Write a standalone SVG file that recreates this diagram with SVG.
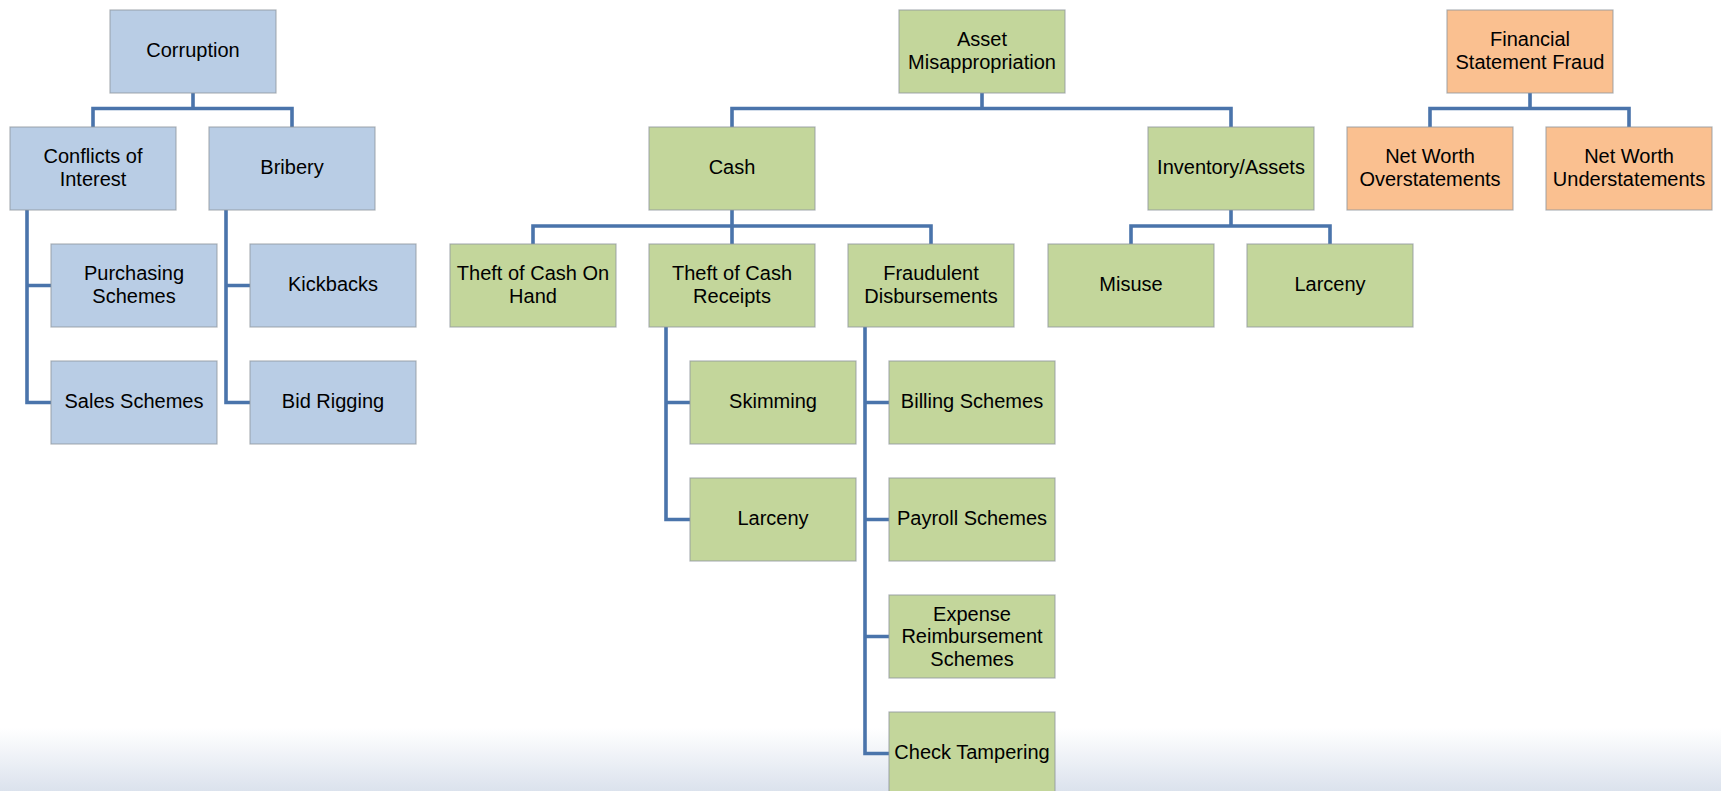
<svg xmlns="http://www.w3.org/2000/svg" width="1721" height="791" viewBox="0 0 1721 791">
<defs>
<linearGradient id="bg" x1="0" y1="0" x2="0" y2="1">
<stop offset="0" stop-color="#ffffff"/>
<stop offset="1" stop-color="#dbe2ed"/>
</linearGradient>
<style>
.b rect{stroke:#8f959c;stroke-width:1.2;stroke-opacity:0.7}
.blue rect{fill:#b9cde5}
.green rect{fill:#c3d69b}
.orange rect{fill:#fac090}
text{font-family:"Liberation Sans",Arial,sans-serif;font-size:20px;fill:#000;text-anchor:middle}
#connectors path{fill:none;stroke:#4a74ab;stroke-width:3.6;stroke-linejoin:miter}
</style>
</defs>
<rect x="0" y="0" width="1721" height="791" fill="#ffffff"/>
<rect x="0" y="728" width="1721" height="63" fill="url(#bg)"/>

<g id="connectors">
<path d="M193,93 V108.5 M93,127 V108.5 H292 V127"/>
<path d="M27,210 V402.5 H51 M27,285.5 H51"/>
<path d="M226,210 V402.5 H250 M226,285.5 H250"/>
<path d="M982,93 V108.5 M732,127 V108.5 H1231 V127"/>
<path d="M732,210 V244 M533,244 V226 H931 V244"/>
<path d="M666,327 V519.5 H690 M666,402.5 H690"/>
<path d="M865,327 V753.5 H889 M865,402.5 H889 M865,519.5 H889 M865,636.5 H889"/>
<path d="M1231,210 V226 M1131,244 V226 H1330 V244"/>
<path d="M1530,93 V108.5 M1430,127 V108.5 H1629 V127"/>
</g>

<g id="corruption" class="b blue"><rect x="110" y="10" width="166" height="83"/><text x="193" y="57">Corruption</text></g>
<g id="conflicts" class="b blue"><rect x="10" y="127" width="166" height="83"/><text x="93" y="163">Conflicts of</text><text x="93" y="186">Interest</text></g>
<g id="bribery" class="b blue"><rect x="209" y="127" width="166" height="83"/><text x="292" y="174">Bribery</text></g>
<g id="purchasing" class="b blue"><rect x="51" y="244" width="166" height="83"/><text x="134" y="280">Purchasing</text><text x="134" y="303">Schemes</text></g>
<g id="sales" class="b blue"><rect x="51" y="361" width="166" height="83"/><text x="134" y="408">Sales Schemes</text></g>
<g id="kickbacks" class="b blue"><rect x="250" y="244" width="166" height="83"/><text x="333" y="291">Kickbacks</text></g>
<g id="bidrigging" class="b blue"><rect x="250" y="361" width="166" height="83"/><text x="333" y="408">Bid Rigging</text></g>

<g id="asset" class="b green"><rect x="899" y="10" width="166" height="83"/><text x="982" y="46">Asset</text><text x="982" y="69">Misappropriation</text></g>
<g id="cash" class="b green"><rect x="649" y="127" width="166" height="83"/><text x="732" y="174">Cash</text></g>
<g id="inventory" class="b green"><rect x="1148" y="127" width="166" height="83"/><text x="1231" y="174">Inventory/Assets</text></g>
<g id="onhand" class="b green"><rect x="450" y="244" width="166" height="83"/><text x="533" y="280">Theft of Cash On</text><text x="533" y="303">Hand</text></g>
<g id="receipts" class="b green"><rect x="649" y="244" width="166" height="83"/><text x="732" y="280">Theft of Cash</text><text x="732" y="303">Receipts</text></g>
<g id="fraudulent" class="b green"><rect x="848" y="244" width="166" height="83"/><text x="931" y="280">Fraudulent</text><text x="931" y="303">Disbursements</text></g>
<g id="skimming" class="b green"><rect x="690" y="361" width="166" height="83"/><text x="773" y="408">Skimming</text></g>
<g id="larceny1" class="b green"><rect x="690" y="478" width="166" height="83"/><text x="773" y="525">Larceny</text></g>
<g id="billing" class="b green"><rect x="889" y="361" width="166" height="83"/><text x="972" y="408">Billing Schemes</text></g>
<g id="payroll" class="b green"><rect x="889" y="478" width="166" height="83"/><text x="972" y="525">Payroll Schemes</text></g>
<g id="expense" class="b green"><rect x="889" y="595" width="166" height="83"/><text x="972" y="620.5">Expense</text><text x="972" y="643">Reimbursement</text><text x="972" y="665.5">Schemes</text></g>
<g id="check" class="b green"><rect x="889" y="712" width="166" height="83"/><text x="972" y="759">Check Tampering</text></g>
<g id="misuse" class="b green"><rect x="1048" y="244" width="166" height="83"/><text x="1131" y="291">Misuse</text></g>
<g id="larceny2" class="b green"><rect x="1247" y="244" width="166" height="83"/><text x="1330" y="291">Larceny</text></g>

<g id="fsf" class="b orange"><rect x="1447" y="10" width="166" height="83"/><text x="1530" y="46">Financial</text><text x="1530" y="69">Statement Fraud</text></g>
<g id="over" class="b orange"><rect x="1347" y="127" width="166" height="83"/><text x="1430" y="163">Net Worth</text><text x="1430" y="186">Overstatements</text></g>
<g id="under" class="b orange"><rect x="1546" y="127" width="166" height="83"/><text x="1629" y="163">Net Worth</text><text x="1629" y="186">Understatements</text></g>
</svg>
